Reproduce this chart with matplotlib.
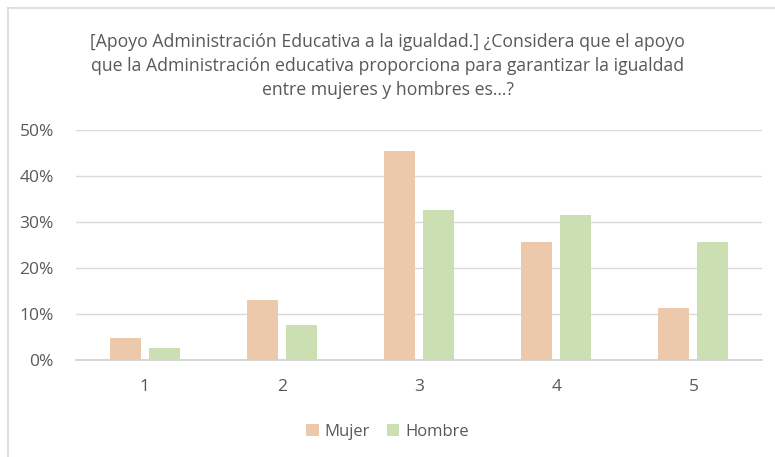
import matplotlib.pyplot as plt
from matplotlib.lines import Line2D
import numpy as np

categorias = ['1', '2', '3', '4', '5']
mujer = [4.8, 13.1, 45.4, 25.6, 11.2]
hombre = [2.7, 7.7, 32.5, 31.5, 25.6]

titulo = ('[Apoyo Administración Educativa a la igualdad.] ¿Considera que el apoyo\n'
          'que la Administración educativa proporciona para garantizar la igualdad\n'
          'entre mujeres y hombres es...?')

plt.rcParams['font.family'] = ['Open Sans', 'DejaVu Sans']
gris = '#595959'

fig = plt.figure(figsize=(7.75, 4.57), dpi=100)
ax = fig.add_axes([76 / 775, 1 - 360 / 457, 686 / 775, 230 / 457])

x = np.arange(len(categorias))
ancho = 0.226
sep = 0.058
ax.bar(x - (ancho + sep) / 2, mujer, ancho, color='#ECC9AB', label='Mujer', zorder=3)
ax.bar(x + (ancho + sep) / 2, hombre, ancho, color='#CCDFB3', label='Hombre', zorder=3)

ax.set_xlim(-0.5, len(categorias) - 0.5)
ax.set_ylim(0, 50)
ax.set_yticks(range(0, 51, 10))
ax.set_yticklabels([f'{v}%' for v in range(0, 51, 10)])
ax.set_xticks(x)
ax.set_xticklabels(categorias)
ax.tick_params(length=0, colors=gris, labelsize=12.5)
ax.tick_params(axis='x', pad=14)
ax.tick_params(axis='y', pad=16)
ax.grid(axis='y', color='#D9D9D9', linewidth=1, zorder=0)
for s in ['top', 'right', 'left']:
    ax.spines[s].set_visible(False)
ax.spines['bottom'].set_color('#D0D0D0')
ax.spines['bottom'].set_linewidth(1.2)

fig.text(0.5, 1 - 66 / 457, titulo, ha='center', va='center', fontsize=12.7,
         color=gris, linespacing=1.4)

fig.legend(loc='center', bbox_to_anchor=(0.5, 1 - 432 / 457), ncol=2, frameon=False,
           fontsize=12, labelcolor=gris, handlelength=0.75, handleheight=0.75,
           handletextpad=0.35, columnspacing=1.0)

# borde del cuadro del gráfico (solo izquierda y arriba son visibles)
xb = 7.5 / 775
yb = 1 - 8 / 457
fig.lines.append(Line2D([xb, xb], [0, yb], transform=fig.transFigure,
                        color='#D9D9D9', linewidth=1.2))
fig.lines.append(Line2D([xb, 1], [yb, yb], transform=fig.transFigure,
                        color='#D9D9D9', linewidth=1.2))

fig.savefig('out.png', dpi=100)
